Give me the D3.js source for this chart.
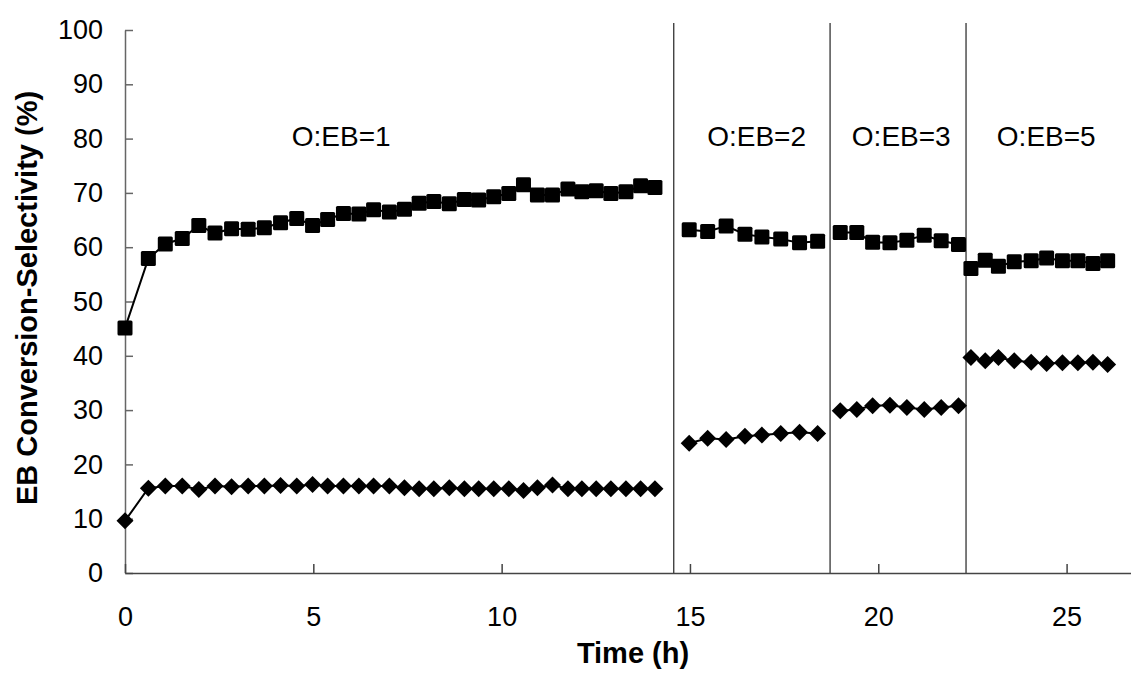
<!DOCTYPE html>
<html>
<head>
<meta charset="utf-8">
<script src="https://cdn.jsdelivr.net/npm/d3@7"></script>
<style>
  html, body { margin: 0; padding: 0; background: #fff; }
  svg { display: block; font-family: "Liberation Sans", Arial, sans-serif; }
</style>
</head>
<body>
<svg id="chart" width="1131" height="679"></svg>
<script>
// ---- data ----
const segment = [
  1,1,1,1,1,1,1,1,1,1,1,1,1,1,1,1,1,1,1,1,1,1,1,1,1,1,1,1,1,1,1,1,1,1,1,
  2,2,2,2,2,2,2,2,
  3,3,3,3,3,3,3,3,
  4,4,4,4,4,4,4,4,4,4
];
const timeH = [
  0, 0.62, 1.07, 1.52, 1.96, 2.39, 2.83, 3.27, 3.70, 4.13, 4.56, 4.98, 5.38, 5.80, 6.21, 6.60, 7.02,
  7.42, 7.81, 8.20, 8.61, 9.01, 9.39, 9.79, 10.19, 10.58, 10.95, 11.35, 11.76, 12.13, 12.51, 12.90, 13.30, 13.69, 14.07,
  14.98, 15.47, 15.96, 16.46, 16.91, 17.41, 17.91, 18.39,
  18.99, 19.43, 19.85, 20.31, 20.76, 21.22, 21.67, 22.13,
  22.46, 22.84, 23.19, 23.61, 24.06, 24.47, 24.89, 25.30, 25.70, 26.09
];
// squares (selectivity)
const selectivity = [
  45.1, 57.9, 60.6, 61.6, 64.0, 62.6, 63.4, 63.3, 63.6, 64.5, 65.3, 64.0, 65.1, 66.2, 66.1, 66.9, 66.5,
  67.0, 68.1, 68.4, 68.0, 68.8, 68.7, 69.3, 69.9, 71.5, 69.6, 69.6, 70.7, 70.2, 70.4, 69.9, 70.2, 71.3, 71.0,
  63.2, 62.9, 63.9, 62.4, 61.9, 61.5, 60.8, 61.1,
  62.7, 62.7, 60.9, 60.8, 61.3, 62.2, 61.2, 60.5,
  56.1, 57.6, 56.5, 57.3, 57.5, 58.0, 57.5, 57.5, 57.0, 57.5
];
// diamonds (conversion)
const conversion = [
  9.6, 15.6, 16.0, 16.0, 15.4, 16.0, 15.9, 16.0, 16.0, 16.1, 16.0, 16.3, 16.0, 16.0, 16.0, 16.0, 16.0,
  15.7, 15.5, 15.5, 15.7, 15.5, 15.5, 15.5, 15.5, 15.2, 15.7, 16.2, 15.5, 15.5, 15.5, 15.5, 15.5, 15.5, 15.5,
  23.9, 24.8, 24.6, 25.2, 25.4, 25.7, 25.9, 25.7,
  29.9, 30.1, 30.8, 30.9, 30.5, 30.1, 30.5, 30.8,
  39.7, 39.1, 39.7, 39.1, 38.8, 38.6, 38.7, 38.7, 38.8, 38.4
];
const separators = [14.57, 18.72, 22.33];
const annotationLabels = ["O:EB=1", "O:EB=2", "O:EB=3", "O:EB=5"];
const annotationX = [5.74, 16.77, 20.61, 24.46];
const annotationY = 78.7;
const xTicks = [0, 5, 10, 15, 20, 25];
const yTicks = [0, 10, 20, 30, 40, 50, 60, 70, 80, 90, 100];
const xTitle = "Time (h)";
const yTitle = "EB Conversion-Selectivity (%)";

// ---- drawing ----
const svg = d3.select("#chart");
const x = d3.scaleLinear().domain([0, 26.71]).range([125, 1131]);
const y = d3.scaleLinear().domain([0, 100]).range([573, 30]);

const pts = timeH.map((t, i) => ({ t, seg: segment[i], s: selectivity[i], c: conversion[i] }));
const segs = d3.groups(pts, d => d.seg);

// separators
svg.append("g").selectAll("line").data(separators).join("line")
  .attr("x1", d => x(d)).attr("x2", d => x(d))
  .attr("y1", y(0)).attr("y2", y(101.3))
  .attr("stroke", "#222").attr("stroke-width", 1.2);

// axes
const yAxis = d3.axisLeft(y).tickValues(yTicks).tickSizeInner(-8).tickSizeOuter(0).tickPadding(22);
const gy = svg.append("g").attr("transform", `translate(${x(0)},0)`).call(yAxis);
gy.select(".domain").attr("stroke", "#666").attr("stroke-width", 1.5);
gy.selectAll(".tick line").attr("stroke", "#666").attr("stroke-width", 1.5);
gy.selectAll("text").attr("font-size", 27).attr("fill", "#000")
  .attr("font-family", "Liberation Sans, Arial, sans-serif");

const xAxis = d3.axisBottom(x).tickValues(xTicks).tickSizeInner(-9).tickSizeOuter(0).tickPadding(34);
const gx = svg.append("g").attr("transform", `translate(0,${y(0)})`).call(xAxis);
gx.select(".domain").attr("stroke", "#444").attr("stroke-width", 1.5);
gx.selectAll(".tick line").attr("stroke", "#444").attr("stroke-width", 1.5);
gx.selectAll("text").attr("font-size", 27).attr("fill", "#000")
  .attr("font-family", "Liberation Sans, Arial, sans-serif");

// lines
const lineS = d3.line().x(d => x(d.t)).y(d => y(d.s));
const lineC = d3.line().x(d => x(d.t)).y(d => y(d.c));
const gl = svg.append("g");
segs.forEach(([k, arr]) => {
  gl.append("path").attr("d", lineS(arr)).attr("fill", "none").attr("stroke", "#000").attr("stroke-width", 2);
  gl.append("path").attr("d", lineC(arr)).attr("fill", "none").attr("stroke", "#000").attr("stroke-width", 2);
});

// markers
const sq = 15;
svg.append("g").selectAll("rect").data(pts).join("rect")
  .attr("x", d => x(d.t) - sq / 2).attr("y", d => y(d.s) - sq / 2)
  .attr("width", sq).attr("height", sq).attr("rx", 1.5)
  .attr("fill", "#000");
const dh = 8.5;
svg.append("g").selectAll("path").data(pts).join("path")
  .attr("d", d => {
    const cx = x(d.t), cy = y(d.c);
    return `M${cx},${cy - dh}L${cx + dh},${cy}L${cx},${cy + dh}L${cx - dh},${cy}Z`;
  })
  .attr("fill", "#000");

// annotations
svg.append("g").selectAll("text").data(annotationLabels).join("text")
  .attr("x", (d, i) => x(annotationX[i])).attr("y", y(annotationY))
  .attr("text-anchor", "middle").attr("font-size", 28).attr("fill", "#000")
  .text(d => d);

// titles
svg.append("text").attr("x", 633).attr("y", 663).attr("text-anchor", "middle")
  .attr("font-size", 29).attr("font-weight", "bold").text(xTitle);
svg.append("text").attr("transform", "translate(37,298) rotate(-90)").attr("text-anchor", "middle")
  .attr("font-size", 29).attr("font-weight", "bold").text(yTitle);
</script>
</body>
</html>
